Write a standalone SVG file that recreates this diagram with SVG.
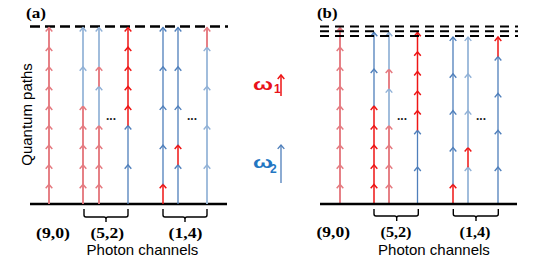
<svg xmlns="http://www.w3.org/2000/svg" width="545" height="262" viewBox="0 0 545 262">
<defs>
<style>
.lr{fill:none;stroke:#E57A80;stroke-width:1.9;marker-mid:url(#m-lr);marker-end:url(#m-lr)}
.r{fill:none;stroke:#EE1515;stroke-width:1.5;marker-mid:url(#m-r);marker-end:url(#m-r)}
.lb{fill:none;stroke:#9DBADB;stroke-width:1.9;marker-mid:url(#m-lb);marker-end:url(#m-lb)}
.b{fill:none;stroke:#4F7FBB;stroke-width:1.3;marker-mid:url(#m-b);marker-end:url(#m-b)}
.dash{fill:none;stroke:#000}
.base{fill:none;stroke:#000;stroke-width:2.5}
.brk{fill:none;stroke:#000;stroke-width:1.4}
.lab{font-family:"Liberation Serif","Times New Roman",serif;font-weight:bold;font-size:15px;fill:#000;text-anchor:middle}
.pan{font-family:"Liberation Serif","Times New Roman",serif;font-weight:bold;font-size:14px;fill:#000}
.sans{font-family:"Liberation Sans",Arial,sans-serif;font-size:15px;fill:#000;text-anchor:middle}
.dots{font-family:"Liberation Sans",Arial,sans-serif;font-size:12px;font-weight:bold;fill:#222}
</style>
<marker id="m-lr" markerUnits="userSpaceOnUse" orient="auto" markerWidth="10" markerHeight="10" overflow="visible"><path d="M-3.9,-3.3 L0,0 L-3.9,3.3" fill="none" stroke="#E57A80" stroke-width="1.5"/></marker>
<marker id="m-r" markerUnits="userSpaceOnUse" orient="auto" markerWidth="10" markerHeight="10" overflow="visible"><path d="M-3.9,-3.3 L0,0 L-3.9,3.3" fill="none" stroke="#EE1515" stroke-width="1.5"/></marker>
<marker id="m-lb" markerUnits="userSpaceOnUse" orient="auto" markerWidth="10" markerHeight="10" overflow="visible"><path d="M-3.9,-3.3 L0,0 L-3.9,3.3" fill="none" stroke="#8FB0D6" stroke-width="1.4"/></marker>
<marker id="m-b" markerUnits="userSpaceOnUse" orient="auto" markerWidth="10" markerHeight="10" overflow="visible"><path d="M-3.9,-3.3 L0,0 L-3.9,3.3" fill="none" stroke="#4F7FBB" stroke-width="1.4"/></marker>
</defs>
<rect width="545" height="262" fill="#fff"/>

<!-- Panel (a) -->
<g id="panel-a-frame">
<text class="pan" x="26" y="17.5" textLength="20" lengthAdjust="spacingAndGlyphs">(a)</text>
<path class="dash" d="M30,26.5 H228" stroke-width="2.6" stroke-dasharray="10 5"/>
<path class="base" d="M30,204 H227"/>
<text class="sans" transform="translate(31.5,114.5) rotate(-90)" x="0" y="0">Quantum paths</text>
</g>

<g id="connectors">
<g id="a-c1"><path class="lr" d="M49,204 V184.4 V164.8 V145.2 V125.6 V106 V86.4 V66.8 V47.2 V27.6"/></g>
<g id="a-c2"><path class="lr" d="M83,204 V184.4 V164.8 V145.2 V125.6 V106"/><path class="lb" d="M83,106 V66.8 V27.6"/></g>
<g id="a-c3"><path class="lr" d="M99,204 V184.4 V164.8 V145.2 V125.6"/><path class="lb" d="M99,125.6 V86.4"/><path class="lr" d="M99,86.4 V66.8"/><path class="lb" d="M99,66.8 V27.6"/></g>
<g id="a-c4"><path class="b" d="M128,204 V164.8 V125.6"/><path class="r" d="M128,125.6 V106 V86.4 V66.8 V47.2 V27.6"/></g>
<g id="a-c5"><path class="r" d="M163,204 V184.4"/><path class="b" d="M163,184.4 V145.2 V106 V66.8 V27.6"/></g>
<g id="a-c6"><path class="b" d="M178,204 V164.8"/><path class="r" d="M178,164.8 V145.2"/><path class="b" d="M178,145.2 V106 V66.8 V27.6"/></g>
<g id="a-c7"><path class="lb" d="M207,204 V164.8 V125.6 V86.4 V47.2"/><path class="lr" d="M207,47.2 V27.6"/></g>

<g id="b-c1"><path class="lr" d="M340,204 V184.4 V164.8 V145.2 V125.6 V106 V86.4 V66.8 V47.2 V27.6"/></g>
<g id="b-c2"><path class="r" d="M374,204 V184.4 V164.8 V145.2 V125.6 V106"/><path class="b" d="M374,106 V69.15 V32.3"/></g>
<g id="b-c3"><path class="lr" d="M389,204 V184.4 V164.8 V145.2 V125.6"/><path class="lb" d="M389,125.6 V88.75"/><path class="lr" d="M389,88.75 V69.15"/><path class="lb" d="M389,69.15 V32.3"/></g>
<g id="b-c4"><path class="b" d="M417.5,204 V167.15 V130.3"/><path class="r" d="M417.5,130.3 V110.7 V91.1 V71.5 V51.9 V32.3"/></g>
<g id="b-c5"><path class="r" d="M453,204 V184.4"/><path class="b" d="M453,184.4 V147.55 V110.7 V73.85 V37"/></g>
<g id="b-c6"><path class="lb" d="M468,204 V167.15"/><path class="r" d="M468,167.15 V147.55"/><path class="lb" d="M468,147.55 V110.7 V73.85 V37"/></g>
<g id="b-c7"><path class="b" d="M498,204 V167.15 V130.3 V93.45 V56.6"/><path class="r" d="M498,56.6 V37"/></g>

<g id="legend-arrows">
<path class="r" d="M281,96 V75" style="marker-mid:none"/>
<path class="b" d="M281,183 V145" style="marker-mid:none"/>
</g>
</g>

<g id="a-dots">
<text class="dots" x="106" y="119.5">...</text>
<text class="dots" x="187" y="119.5">...</text>
</g>

<g id="a-brackets">
<path class="brk" d="M84,209 V215 Q84,217 86,217 H104 Q106,217 106,219 V222 M106,219 Q106,217 108,217 H126 Q128,217 128,215 V209"/>
<path class="brk" d="M163,209 V215 Q163,217 165,217 H183 Q185,217 185,219 V222 M185,219 Q185,217 187,217 H205 Q207,217 207,215 V209"/>
</g>

<g id="a-labels">
<text class="lab" x="53" y="237.5" textLength="34" lengthAdjust="spacingAndGlyphs">(9,0)</text>
<text class="lab" x="107.3" y="237.5" textLength="33.5" lengthAdjust="spacingAndGlyphs">(5,2)</text>
<text class="lab" x="185.5" y="237.5" textLength="34" lengthAdjust="spacingAndGlyphs">(1,4)</text>
<text class="sans" x="142.5" y="254.5">Photon channels</text>
</g>

<g id="legend-w1">
<text x="253" y="89.5" font-family="'Liberation Sans',Arial,sans-serif" font-weight="bold" font-size="17" fill="#E8121A" textLength="20" lengthAdjust="spacingAndGlyphs">ω</text>
<text x="274" y="93" font-family="'Liberation Sans',Arial,sans-serif" font-weight="bold" font-size="12" fill="#E8121A">1</text>
</g>
<g id="legend-w2">
<text x="253" y="167.5" font-family="'Liberation Sans',Arial,sans-serif" font-weight="bold" font-size="17" fill="#2276C2" textLength="20" lengthAdjust="spacingAndGlyphs">ω</text>
<text x="270" y="172.5" font-family="'Liberation Sans',Arial,sans-serif" font-weight="bold" font-size="12" fill="#2276C2">2</text>
</g>

<g id="panel-b-frame">
<text class="pan" x="317" y="17.5" textLength="20.5" lengthAdjust="spacingAndGlyphs">(b)</text>
<path class="dash" d="M320,26.5 H518" stroke-width="2" stroke-dasharray="9 6"/>
<path class="dash" d="M320,31.3 H518" stroke-width="2" stroke-dasharray="9 6"/>
<path class="dash" d="M320,36.1 H518" stroke-width="2" stroke-dasharray="9 6"/>
<path class="base" d="M320,204 H517"/>
</g>

<g id="b-dots">
<text class="dots" x="397" y="119.5">...</text>
<text class="dots" x="476" y="119.5">...</text>
</g>

<g id="b-brackets">
<path class="brk" d="M374,209 V214 Q374,216 376,216 H394.7 Q396.7,216 396.7,218 V221 M396.7,218 Q396.7,216 398.7,216 H416.3 Q418.3,216 418.3,214 V209"/>
<path class="brk" d="M453.3,209 V214 Q453.3,216 455.3,216 H474 Q476,216 476,218 V221 M476,218 Q476,216 478,216 H496.3 Q498.3,216 498.3,214 V209"/>
</g>

<g id="b-labels">
<text class="lab" x="333.3" y="237.3" textLength="33.5" lengthAdjust="spacingAndGlyphs">(9,0)</text>
<text class="lab" x="396" y="237.3" textLength="31" lengthAdjust="spacingAndGlyphs">(5,2)</text>
<text class="lab" x="475" y="237.3" textLength="31" lengthAdjust="spacingAndGlyphs">(1,4)</text>
<text class="sans" x="434" y="254.5">Photon channels</text>
</g>
</svg>
